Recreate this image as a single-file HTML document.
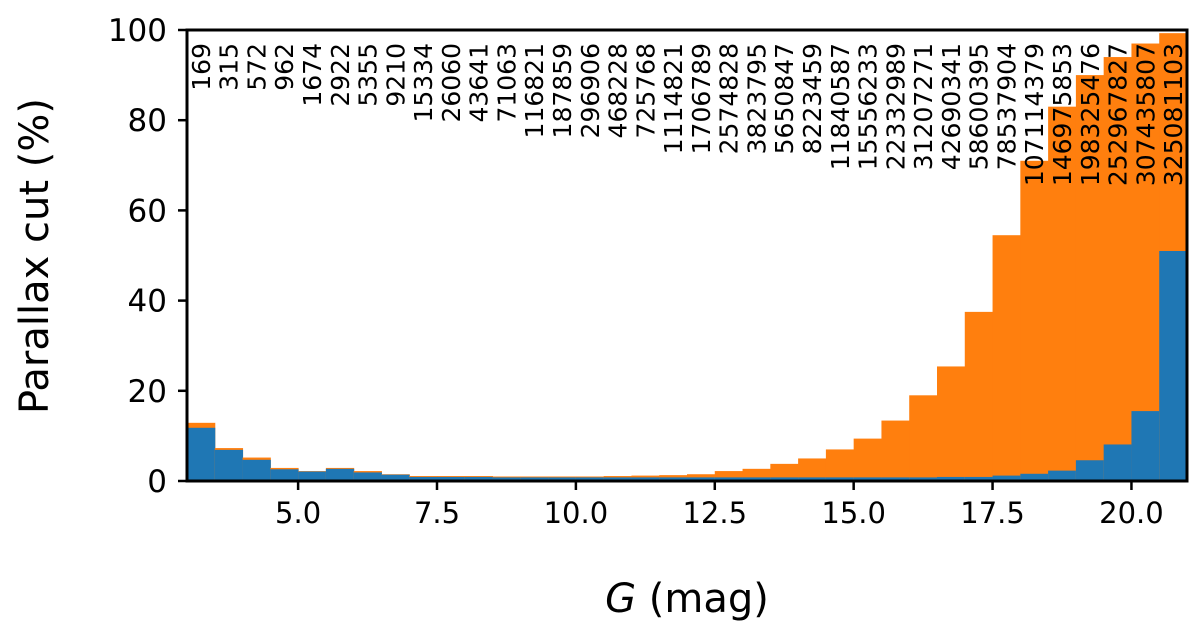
<!DOCTYPE html>
<html><head><meta charset="utf-8"><style>
html,body{margin:0;padding:0;background:#fff;}
svg text{font-family:"DejaVu Sans","Liberation Sans",sans-serif;}
</style></head><body>
<svg id="chart" width="1200" height="633" xmlns="http://www.w3.org/2000/svg">
<g id="bars"></g>
<g id="labels"></g>
<g id="axes"></g>
</svg>
<script>
const binStarts = [3,3.5,4,4.5,5,5.5,6,6.5,7,7.5,8,8.5,9,9.5,10,10.5,11,11.5,12,12.5,13,13.5,14,14.5,15,15.5,16,16.5,17,17.5,18,18.5,19,19.5,20,20.5];
const totalPct = [12.9,7.3,5.2,2.9,2.2,2.9,2.2,1.5,1.1,1.1,1.1,1.0,1.0,1.0,1.0,1.1,1.2,1.3,1.5,2.2,2.7,3.8,5.0,7.0,9.4,13.4,19,25.4,37.5,54.5,71,83,90,94,97,99.3];
const bluePct = [11.8,6.9,4.7,2.6,2.1,2.7,1.9,1.4,0.9,0.9,0.9,0.8,0.8,0.8,0.8,0.8,0.8,0.8,0.8,0.8,0.8,0.8,0.8,0.8,0.8,0.8,0.8,0.9,0.9,1.2,1.6,2.3,4.6,8.1,15.5,51];
const counts = ["169","315","572","962","1674","2922","5355","9210","15334","26060","43641","71063","116821","187859","296906","468228","725768","1114821","1706789","2574828","3823795","5650847","8223459","11840587","15556233","22332989","31207271","42690341","58600395","78537904","107114379","146975853","198325476","252967827","307435807","325081103"];
const xTicks = [5,7.5,10,12.5,15,17.5,20];
const yTicks = [0,20,40,60,80,100];
const binWidth = 0.5;

const NS="http://www.w3.org/2000/svg";
const X0=187,X1=1187,Y0=481,Y1=30;
const xs=v=>X0+(v-3)/(21-3)*(X1-X0);
const ys=v=>Y0-v/100*(Y0-Y1);
function mk(t,a,p){const e=document.createElementNS(NS,t);for(const k in a)e.setAttribute(k,a[k]);p.appendChild(e);return e;}
const bars=document.getElementById('bars'),labels=document.getElementById('labels'),axes=document.getElementById('axes');
binStarts.forEach((b,i)=>{
  const x=xs(b),w=xs(b+binWidth)-x;
  const o=mk('rect',{x:x,y:ys(totalPct[i]),width:w+0.5,height:Y0-ys(totalPct[i]),fill:'#ff7f0e'},bars);
  
  
  const bl=mk('rect',{x:x,y:ys(bluePct[i]),width:w+0.5,height:Y0-ys(bluePct[i]),fill:'#1f77b4'},bars);
  
  
  const cx=x+w/2;
  const t=mk('text',{x:cx+9,y:43,transform:`rotate(-90 ${cx+9} 43)`,'text-anchor':'end','font-size':'25'},labels);
  t.textContent=counts[i];
  
  
});
mk('rect',{x:X0,y:Y1,width:X1-X0,height:Y0-Y1,fill:'none',stroke:'#000','stroke-width':3},axes);
xTicks.forEach(v=>{
  mk('line',{x1:xs(v),x2:xs(v),y1:Y0,y2:Y0+9,stroke:'#000','stroke-width':2.5},axes);
  const t=mk('text',{x:xs(v),y:Y0+42,'text-anchor':'middle','font-size':'29'},axes);
  t.textContent=v.toFixed(1);
  
  
});
yTicks.forEach(v=>{
  mk('line',{x1:X0-9,x2:X0,y1:ys(v),y2:ys(v),stroke:'#000','stroke-width':2.5},axes);
  const t=mk('text',{x:X0-20,y:ys(v)+11,'text-anchor':'end','font-size':'31'},axes);
  t.textContent=v;
  
  
});
</script>
<svg width="1200" height="633" style="position:absolute;left:0;top:0" xmlns="http://www.w3.org/2000/svg">
<text x="687" y="612" text-anchor="middle" font-size="40" font-family="DejaVu Sans, sans-serif"><tspan font-style="italic">G</tspan> (mag)</text>
<text x="48" y="256" text-anchor="middle" font-size="40" font-family="DejaVu Sans, sans-serif" transform="rotate(-90 48 256)">Parallax cut (%)</text>
</svg>
</body></html>
